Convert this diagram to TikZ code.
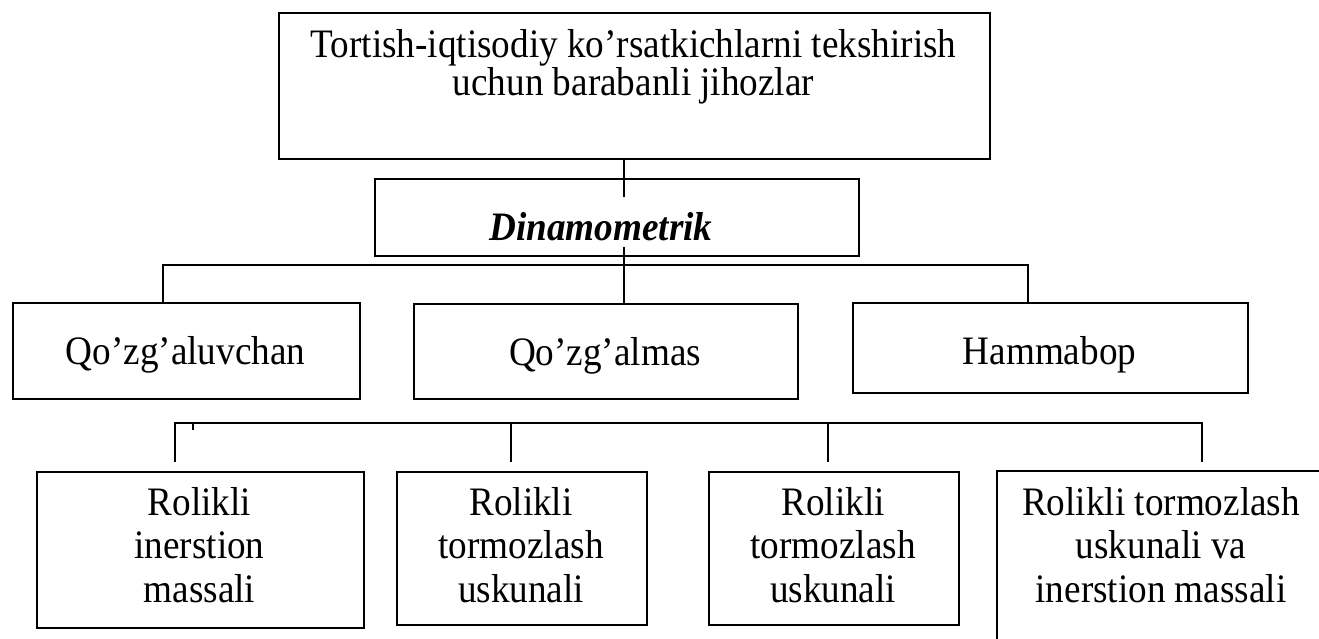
\documentclass[tikz,border=0pt]{standalone}
\usepackage{fontspec}
\setmainfont{Liberation Serif}[FakeStretch=0.92]
\begin{document}
\begin{tikzpicture}[x=1pt,y=-1pt,
  box/.style={draw, line width=1.5pt, inner sep=0pt, anchor=north west},
  txt/.style={font=\fontsize{40.4}{34}\selectfont, anchor=base, inner sep=0pt, align=center},
  txtb/.style={font=\fontsize{40.4}{43.5}\selectfont, anchor=base, inner sep=0pt, align=center},
  conn/.style={line width=1.5pt}]
\useasboundingbox (0,0) rectangle (1319,638);
\clip (0,0) rectangle (1319,638);
% boxes
\node[box, minimum width=711pt, minimum height=146pt] (T) at (278,12) {};
\node[box, minimum width=484pt, minimum height=77pt] (D) at (374,178) {};
\node[box, minimum width=347pt, minimum height=96pt] (A) at (12,302) {};
\node[box, minimum width=384pt, minimum height=95pt] (B) at (413,303) {};
\node[box, minimum width=395pt, minimum height=90pt] (C) at (852,302) {};
\node[box, minimum width=327pt, minimum height=156pt] (R1) at (36,471) {};
\node[box, minimum width=250pt, minimum height=153pt] (R2) at (396,471) {};
\node[box, minimum width=250pt, minimum height=153pt] (R3) at (708,471) {};
\node[box, minimum width=330pt, minimum height=230pt] (R4) at (996,470) {};
% texts (base anchor = baseline of the last line)
\node[txt] (tT) at (633.5,95) {Tortish-iqtisodiy ko’rsatkichlarni tekshirish\\uchun barabanli jihozlar};
\node[txt, font=\fontsize{40.4}{34}\selectfont\bfseries\itshape] (tD) at (601,240) {Dinamometrik};
\node[txt] (tA) at (185.5,364) {Qo’zg’aluvchan};
\node[txt] (tB) at (605,365) {Qo’zg’almas};
\node[txt] (tC) at (1049.5,364) {Hammabop};
\node[txtb] (tR1) at (199.5,602) {Rolikli\\inerstion\\massali};
\node[txtb] (tR2) at (521,602) {Rolikli\\tormozlash\\uskunali};
\node[txtb] (tR3) at (833,602) {Rolikli\\tormozlash\\uskunali};
\node[txtb] (tR4) at (1161,602) {Rolikli tormozlash\\uskunali va\\inerstion massali};
% connector points
\coordinate (j1) at (624,197);
\coordinate (j2) at (624,247);
\coordinate (busL) at (163,265);
\coordinate (busR) at (1028,265);
\coordinate (lbL) at (175,423);
\coordinate (lbR) at (1202,423);
\coordinate (lb2) at (511,423);
\coordinate (lb3) at (828,423);
\coordinate (tk) at (193,430);
\coordinate (e1) at (175,462);
\coordinate (e2) at (511,462);
\coordinate (e3) at (828,462);
\coordinate (e4) at (1202,462);
% connectors
\draw[conn] (T.south -| j1) -- (j1);
\draw[conn] (j2) -- (j2 |- B.north);
\draw[conn] (A.north -| busL) -- (busL) -- (busR) -- (busR |- C.north);
\draw[conn] (e1) -- (lbL) -- (lbR) -- (e4);
\draw[conn] (lb2) -- (e2);
\draw[conn] (lb3) -- (e3);
\draw[conn] (tk |- lbL) -- (tk);
\end{tikzpicture}
\end{document}
